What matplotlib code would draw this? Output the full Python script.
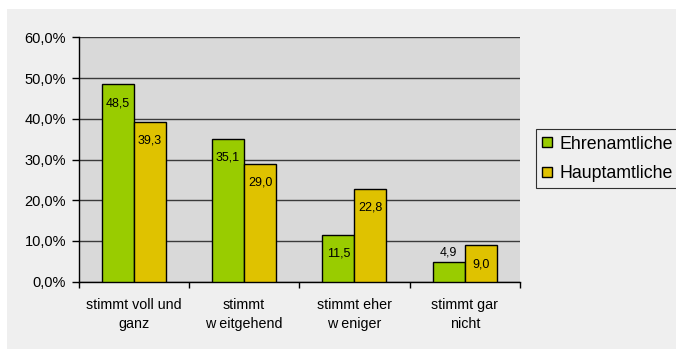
import matplotlib
matplotlib.use("Agg")
import matplotlib.pyplot as plt
from matplotlib.lines import Line2D
from matplotlib.patches import Rectangle
import numpy as np

plt.rcParams['font.family'] = ['Liberation Sans', 'DejaVu Sans']

categories = ["stimmt voll und\nganz", "stimmt\nw eitgehend", "stimmt eher\nw eniger", "stimmt gar\nnicht"]
series_names = ["Ehrenamtliche", "Hauptamtliche"]
ehrenamtliche = [48.5, 35.1, 11.5, 4.9]
hauptamtliche = [39.3, 29.0, 22.8, 9.0]
y_ticks = [0, 10, 20, 30, 40, 50, 60]

green = "#99cc00"
yellow = "#dfc200"
panel_bg = "#efefef"
plot_bg = "#d9d9d9"

W, H = 676, 349
fig = plt.figure(figsize=(W / 100, H / 100), dpi=100)
fig.patch.set_facecolor("white")

# light panel behind the chart
fig.patches.append(Rectangle((7 / W, 0), (W - 7) / W, (H - 9) / H,
                             transform=fig.transFigure, facecolor=panel_bg,
                             edgecolor="none", zorder=-5))

left, right = 78.5, 520
top, bottom = 37.3, 281.7
ax = fig.add_axes([left / W, (H - bottom) / H, (right - left) / W, (bottom - top) / H])
ax.set_zorder(1)
ax.set_facecolor(plot_bg)

x = np.arange(len(categories))
bw = 0.29
bars1 = ax.bar(x - bw / 2, ehrenamtliche, bw, color=green, edgecolor="black", linewidth=1.0, zorder=3)
bars2 = ax.bar(x + bw / 2, hauptamtliche, bw, color=yellow, edgecolor="black", linewidth=1.0, zorder=3)

ax.set_xlim(-0.5, len(categories) - 0.5)
ax.set_ylim(0, 60)
ax.set_yticks(y_ticks)
ax.set_yticklabels([f"{v:.1f}".replace(".", ",") + "%" for v in y_ticks], fontsize=10.5)
ax.yaxis.grid(True, color="#3a3a3a", linewidth=1.0, zorder=1)
ax.set_axisbelow(True)

# category ticks sit on the group boundaries
ax.set_xticks(np.arange(len(categories) + 1) - 0.5)
ax.set_xticklabels([])
ax.set_xticks(x, minor=True)
ax.set_xticklabels(categories, minor=True, fontsize=10.3, linespacing=1.4)
ax.tick_params(axis="x", which="minor", length=0, pad=12)
ax.tick_params(axis="x", which="major", length=4, width=1, color="black")
ax.tick_params(axis="y", length=5, width=1, color="black", pad=4)

for side in ("top", "right"):
    ax.spines[side].set_visible(False)
for side in ("left", "bottom"):
    ax.spines[side].set_color("black")
    ax.spines[side].set_linewidth(1.0)

px_per_unit = (bottom - top) / 60.0
for bars, vals in ((bars1, ehrenamtliche), (bars2, hauptamtliche)):
    for b, v in zip(bars, vals):
        cx = b.get_x() + b.get_width() / 2
        h_px = v * px_per_unit
        if h_px < 22 and vals is ehrenamtliche:
            yy = v + 9 / px_per_unit
        else:
            yy = v - 19 / px_per_unit
        ax.text(cx, yy, f"{v:.1f}".replace(".", ","), ha="center", va="center",
                fontsize=9, color="black", zorder=4)

handles = [Line2D([], [], marker="s", ls="", markersize=7, markerfacecolor=c,
                  markeredgecolor="black", markeredgewidth=1.0) for c in (green, yellow)]
leg = fig.legend(handles, series_names, loc="upper left",
                 bbox_to_anchor=(535.7 / W, (H - 129.3) / H), bbox_transform=fig.transFigure,
                 fontsize=12.8, frameon=True, fancybox=False, borderaxespad=0,
                 handlelength=0.6, handletextpad=0.4, borderpad=0.35, labelspacing=0.7)
leg.get_frame().set_edgecolor("black")
leg.get_frame().set_linewidth(0.8)
leg.get_frame().set_facecolor(panel_bg)

fig.savefig("out.png", dpi=100, facecolor=fig.get_facecolor())
